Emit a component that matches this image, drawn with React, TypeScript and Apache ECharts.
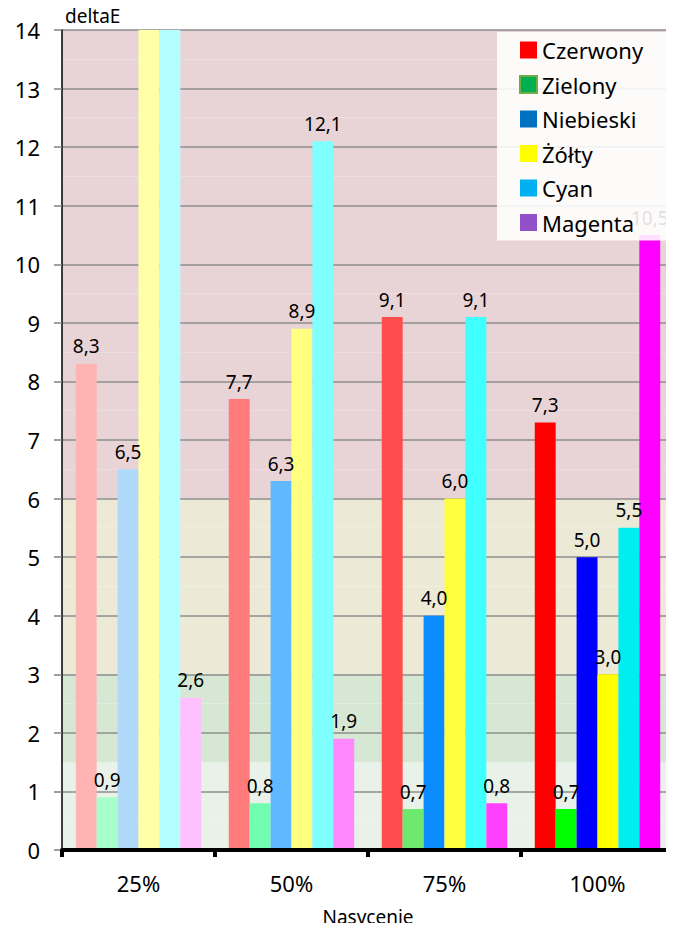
import React, { useEffect, useRef } from "react";
import * as echarts from "echarts";

const categories = ["25%", "50%", "75%", "100%"];
const seriesNames = ["Czerwony", "Zielony", "Niebieski", "Żółty", "Cyan", "Magenta"];
const legendColors = ["#ff0000", "#00b050", "#0070c0", "#ffff00", "#00b0f0", "#9150c8"];

const czerwony = [8.3, 7.7, 9.1, 7.3];
const zielony = [0.9, 0.8, 0.7, 0.7];
const niebieski = [6.5, 6.3, 4.0, 5.0];
const zolty = [16.5, 8.9, 6.0, 3.0];
const cyan = [18.0, 12.1, 9.1, 5.5];
const magenta = [2.6, 1.9, 0.8, 10.5];

const czerwonyColors = ["#ffb3b3", "#ff7a7a", "#ff4d4d", "#ff0000"];
const zielonyColors = ["#a6ffc8", "#70ffb0", "#6ee86e", "#00ff00"];
const niebieskiColors = ["#b0d8f8", "#60b8ff", "#0a8cff", "#0000ff"];
const zoltyColors = ["#ffffa8", "#ffff80", "#ffff40", "#ffff00"];
const cyanColors = ["#b3ffff", "#80ffff", "#40ffff", "#00eeee"];
const magentaColors = ["#ffc0ff", "#ff88ff", "#ff40ff", "#ff00ff"];

const allValues = [czerwony, zielony, niebieski, zolty, cyan, magenta];
const allColors = [czerwonyColors, zielonyColors, niebieskiColors, zoltyColors, cyanColors, magentaColors];

const yMin = 0;
const yMax = 14;
const bandStep = 0.5;

const bands = [
  { from: 0, to: 1.5, color: "#e9f2e8" },
  { from: 1.5, to: 3, color: "#d6e8d3" },
  { from: 3, to: 6, color: "#ece9d6" },
  { from: 6, to: 14, color: "#e8d4d6" },
];

const FONT = "Noto Sans";

function bandColorsPerStep(): string[] {
  const out: string[] = [];
  const n = Math.round((yMax - yMin) / bandStep);
  for (let i = 0; i < n; i++) {
    const mid = yMin + (i + 0.5) * bandStep;
    const b = bands.find((bb) => mid >= bb.from && mid < bb.to);
    out.push(b ? b.color : "#ffffff");
  }
  return out;
}

export default function App() {
  const ref = useRef<HTMLDivElement>(null);
  useEffect(() => {
    if (!ref.current) return;
    const chart = echarts.init(ref.current, undefined, { renderer: "svg" });
    const barSeries = seriesNames.map((name, si) => ({
      name,
      type: "bar",
      yAxisIndex: 0,
      barGap: "0%",
      barCategoryGap: "18%",
      z: 2,
      data: allValues[si].map((v, ci) => ({
        value: v,
        itemStyle: { color: allColors[si][ci] },
        label: { show: v <= yMax },
      })),
      label: {
        show: true,
        position: "top",
        distance: 8,
        color: "#000",
        fontSize: 19,
        fontFamily: FONT,
        formatter: (p: any) => Number(p.value).toFixed(1).replace(".", ","),
      },
    }));
    chart.setOption({
      animation: false,
      textStyle: { fontFamily: FONT },
      grid: { left: 62, right: 0, top: 30, bottom: 76, containLabel: false },
      legend: {
        data: seriesNames.map((n, i) => ({
          name: n,
          itemStyle:
            i === 1
              ? { color: legendColors[i], borderColor: "#70ad47", borderWidth: 2 }
              : { color: legendColors[i], borderWidth: 0 },
        })),
        orient: "vertical",
        left: 497,
        top: 32,
        itemWidth: 17,
        itemHeight: 17,
        itemGap: 12.5,
        icon: "rect",
        padding: [7, 42, 7, 22],
        backgroundColor: "rgba(255,255,255,0.88)",
        z: 20,
        textStyle: { fontSize: 22, color: "#000", fontFamily: FONT },
      },
      xAxis: {
        type: "category",
        data: categories,
        name: "Nasycenie",
        nameLocation: "middle",
        nameGap: 57,
        nameTextStyle: { fontSize: 19, color: "#000", fontFamily: FONT },
        axisLine: { show: true, lineStyle: { color: "#000", width: 4 } },
        axisTick: { show: true, length: 7, lineStyle: { color: "#000", width: 4 } },
        axisLabel: { fontSize: 22, color: "#000", margin: 22, fontFamily: FONT },
        splitLine: { show: false },
        z: 5,
      },
      yAxis: [
        {
          type: "value",
          min: yMin,
          max: yMax,
          interval: 1,
          name: "deltaE",
          nameLocation: "end",
          nameGap: 5,
          nameTextStyle: { fontSize: 19, color: "#000", align: "left", padding: [0, 0, 0, 3], fontFamily: FONT },
          axisLine: { show: true, lineStyle: { color: "#000", width: 1.5 } },
          axisTick: { show: true, length: 8, lineStyle: { color: "#808080", width: 1.5 } },
          axisLabel: { fontSize: 22, color: "#000", margin: 22, fontFamily: FONT },
          splitLine: { show: true, lineStyle: { color: "#8c8c8c", width: 1.5 } },
          z: 1,
        },
        {
          type: "value",
          min: yMin,
          max: yMax,
          interval: bandStep,
          position: "left",
          axisLine: { show: false },
          axisTick: { show: false },
          axisLabel: { show: false },
          splitLine: { show: false },
          splitArea: { show: true, areaStyle: { color: bandColorsPerStep(), opacity: 1 } },
          z: 0,
        },
      ],
      series: barSeries,
    });
    return () => chart.dispose();
  }, []);
  return <div ref={ref} style={{ width: 674, height: 931, margin: -8 }} />;
}
